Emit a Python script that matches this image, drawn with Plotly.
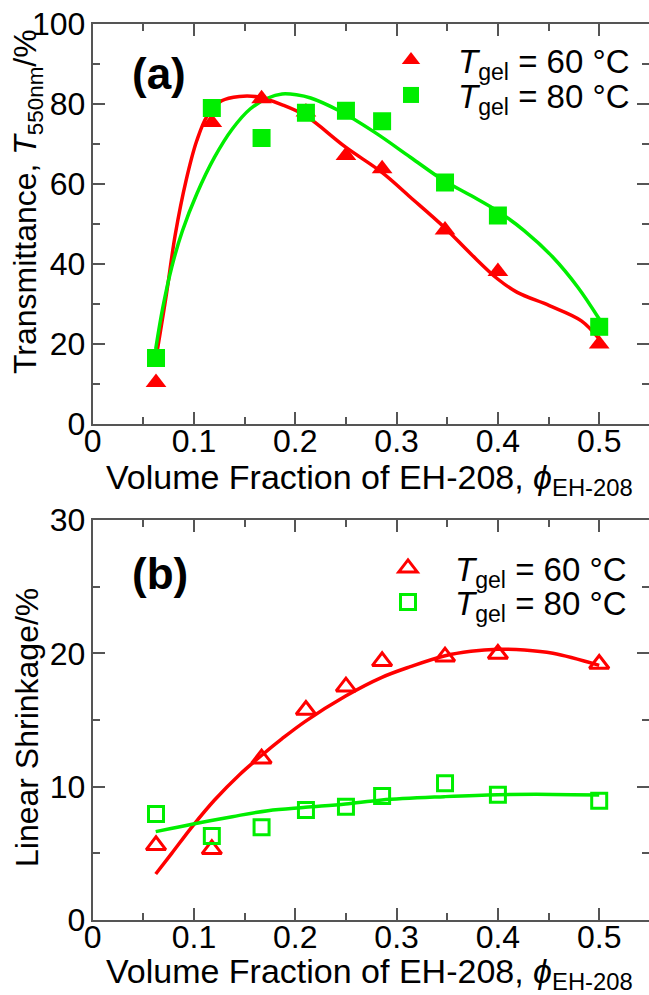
import plotly.graph_objects as go

W, H = 649, 995
FONT = "Liberation Sans, Arial, sans-serif"
RED = "#ff0000"
GREEN = "#00ee00"
AXC = "#555555"

# ---- data ----
phi = [0.0625, 0.1176, 0.1667, 0.2105, 0.25, 0.2857, 0.3478, 0.4, 0.5]
trans_60 = [10.4, 75.4, 81.3, 78.0, 67.1, 63.8, 48.5, 38.1, 20.0]
trans_80 = [16.5, 79.0, 71.5, 77.8, 78.3, 75.7, 60.4, 52.1, 24.3]
shrink_60 = [5.6, 5.3, 12.1, 15.75, 17.5, 19.4, 19.75, 19.95, 19.2]
shrink_80 = [7.95, 6.3, 6.95, 8.25, 8.5, 9.3, 10.25, 9.4, 8.95]

# fitted curves
fit_t60_x = [0.064, 0.0728, 0.0816, 0.0921, 0.1027, 0.1132, 0.1273, 0.1449, 0.1624, 0.1871,
             0.2099, 0.2497, 0.2855, 0.3136, 0.347, 0.3734, 0.3998, 0.4191, 0.4508, 0.4824, 0.5]
fit_t60_y = [18.75, 32.5, 47.5, 60.8, 70.8, 77.1, 80.8, 81.9, 81.8, 79.8,
             77.1, 69.2, 62.9, 56.7, 49.2, 42.5, 36.25, 32.9, 29.6, 25.8, 21.25]
fit_t80_x = [0.0622, 0.0693, 0.078, 0.0886, 0.1027, 0.1203, 0.1378, 0.1554, 0.173, 0.187, 0.2011,
             0.2152, 0.2433, 0.2785, 0.3136, 0.347, 0.3734, 0.3998, 0.4262, 0.4543, 0.4789, 0.5]
fit_t80_y = [18.75, 29.2, 39.2, 48.3, 57.5, 66.7, 73.75, 78.75, 81.5, 82.5, 82.3,
             81.5, 78.3, 72.9, 66.7, 60.8, 57.1, 53.2, 48.3, 41.7, 34.2, 26.25]
fit_s60_x = [0.0622, 0.078, 0.0992, 0.1203, 0.1449, 0.166, 0.187, 0.2099, 0.2497, 0.2855,
             0.3136, 0.347, 0.3734, 0.3998, 0.4262, 0.4543, 0.5]
fit_s60_y = [3.45, 5.0, 7.1, 9.0, 10.9, 12.3, 13.6, 14.9, 16.8, 18.2,
             19.0, 19.8, 20.15, 20.3, 20.25, 20.0, 19.1]
fit_s80_x = [0.0622, 0.0992, 0.1378, 0.173, 0.2099, 0.2497, 0.2855, 0.347, 0.3998, 0.4543, 0.5]
fit_s80_y = [6.63, 7.2, 7.75, 8.2, 8.45, 8.7, 9.0, 9.25, 9.4, 9.42, 9.38]

xticks = [0, 0.1, 0.2, 0.3, 0.4, 0.5]
xtick_text = ["0", "0.1", "0.2", "0.3", "0.4", "0.5"]
yticks_a = [0, 20, 40, 60, 80, 100]
yticks_b = [0, 10, 20, 30]

leg60 = "<i>T</i><sub>gel</sub> = 60 °C"
leg80 = "<i>T</i><sub>gel</sub> = 80 °C"

def px(x):
    return x / W

def py(y):
    return 1 - y / H

fig = go.Figure()

# top panel
fig.add_trace(go.Scatter(x=fit_t60_x, y=fit_t60_y, mode="lines", line=dict(color=RED, width=3.5, shape="spline", smoothing=1),
                         showlegend=False, xaxis="x", yaxis="y"))
fig.add_trace(go.Scatter(x=fit_t80_x, y=fit_t80_y, mode="lines", line=dict(color=GREEN, width=3.5, shape="spline", smoothing=1),
                         showlegend=False, xaxis="x", yaxis="y"))
fig.add_trace(go.Scatter(x=phi, y=trans_60, mode="markers", name=leg60,
                         marker=dict(symbol="triangle-up", size=18, color=RED), legend="legend", xaxis="x", yaxis="y"))
fig.add_trace(go.Scatter(x=phi, y=trans_80, mode="markers", name=leg80,
                         marker=dict(symbol="square", size=18, color=GREEN), legend="legend2", xaxis="x", yaxis="y"))

# bottom panel
fig.add_trace(go.Scatter(x=fit_s60_x, y=fit_s60_y, mode="lines", line=dict(color=RED, width=3.5, shape="spline", smoothing=1),
                         showlegend=False, xaxis="x2", yaxis="y2"))
fig.add_trace(go.Scatter(x=fit_s80_x, y=fit_s80_y, mode="lines", line=dict(color=GREEN, width=3.5, shape="spline", smoothing=1),
                         showlegend=False, xaxis="x2", yaxis="y2"))
fig.add_trace(go.Scatter(x=phi, y=shrink_60, mode="markers", name=leg60,
                         marker=dict(symbol="triangle-up-open", size=17, color=RED, line=dict(width=3, color=RED)),
                         legend="legend3", xaxis="x2", yaxis="y2"))
fig.add_trace(go.Scatter(x=phi, y=shrink_80, mode="markers", name=leg80,
                         marker=dict(symbol="square-open", size=15, color=GREEN, line=dict(width=3, color=GREEN)),
                         legend="legend4", xaxis="x2", yaxis="y2"))

xdom = [92.7 / W, 1.0]
xr = [0, (W - 92.7) / 1013.0]

common_x = dict(range=xr, domain=xdom, tickmode="array", tickvals=xticks, ticktext=xtick_text,
                ticks="inside", ticklen=12, tickwidth=1.5, tickcolor=AXC, mirror="ticks",
                showline=True, linecolor=AXC, linewidth=2, showgrid=False, zeroline=False,
                ticklabelstandoff=-12,
                tickfont=dict(family=FONT, size=32, color="black"),
                minor=dict(dtick=0.05, ticks="inside", ticklen=7, tickwidth=1.5, tickcolor=AXC, showgrid=False))
common_y = dict(ticks="inside", ticklen=12, tickwidth=1.5, tickcolor=AXC, mirror="ticks",
                showline=True, linecolor=AXC, linewidth=2, showgrid=False, zeroline=False,
                ticklabelstandoff=-1,
                tickfont=dict(family=FONT, size=32, color="black"))

leg_common = dict(font=dict(family=FONT, size=33, color="black"), bgcolor="rgba(0,0,0,0)",
                  itemwidth=84, xanchor="left", yanchor="middle", borderwidth=0, itemsizing="trace")

fig.update_layout(
    width=W, height=H, margin=dict(l=0, r=0, t=0, b=0, autoexpand=False),
    paper_bgcolor="white", plot_bgcolor="white",
    xaxis=dict(**common_x, anchor="y"),
    yaxis=dict(**common_y, range=[0, 100], domain=[py(424), py(24)], tickvals=yticks_a, anchor="x",
               minor=dict(dtick=10, ticks="inside", ticklen=7, tickwidth=1.5, tickcolor=AXC, showgrid=False)),
    xaxis2=dict(**common_x, anchor="y2"),
    yaxis2=dict(**common_y, range=[0, 30], domain=[py(920), py(520)], tickvals=yticks_b, anchor="x2",
                minor=dict(dtick=5, ticks="inside", ticklen=7, tickwidth=1.5, tickcolor=AXC, showgrid=False)),
    legend=dict(**leg_common, x=px(364), y=py(60)),
    legend2=dict(**leg_common, x=px(364), y=py(95)),
    legend3=dict(**leg_common, x=px(361), y=py(568)),
    legend4=dict(**leg_common, x=px(361), y=py(602)),
    showlegend=True,
)

ann = []
ann.append(dict(text="<b>(a)</b>", x=px(159), y=py(74), xref="paper", yref="paper", showarrow=False,
                font=dict(family=FONT, size=44, color="black"), xanchor="center", yanchor="middle"))
ann.append(dict(text="<b>(b)</b>", x=px(160), y=py(573), xref="paper", yref="paper", showarrow=False,
                font=dict(family=FONT, size=44, color="black"), xanchor="center", yanchor="middle"))
xtitle = "Volume Fraction of EH-208, <i>ϕ</i><sub>EH-208</sub>"
ann.append(dict(text=xtitle, x=px(369.5), y=py(479), xref="paper", yref="paper", showarrow=False,
                font=dict(family=FONT, size=34, color="black"), xanchor="center", yanchor="middle"))
ann.append(dict(text=xtitle, x=px(369.5), y=py(973), xref="paper", yref="paper", showarrow=False,
                font=dict(family=FONT, size=34, color="black"), xanchor="center", yanchor="middle"))
ann.append(dict(text="Transmittance, <i>T</i><sub>550nm</sub>/%", x=px(27), y=py(202), xref="paper", yref="paper",
                showarrow=False, textangle=-90, font=dict(family=FONT, size=32, color="black"),
                xanchor="center", yanchor="middle"))
ann.append(dict(text="Linear Shrinkage/%", x=px(27), y=py(728), xref="paper", yref="paper",
                showarrow=False, textangle=-90, font=dict(family=FONT, size=32, color="black"),
                xanchor="center", yanchor="middle"))
fig.update_layout(annotations=ann)

fig.write_html("out.html")
